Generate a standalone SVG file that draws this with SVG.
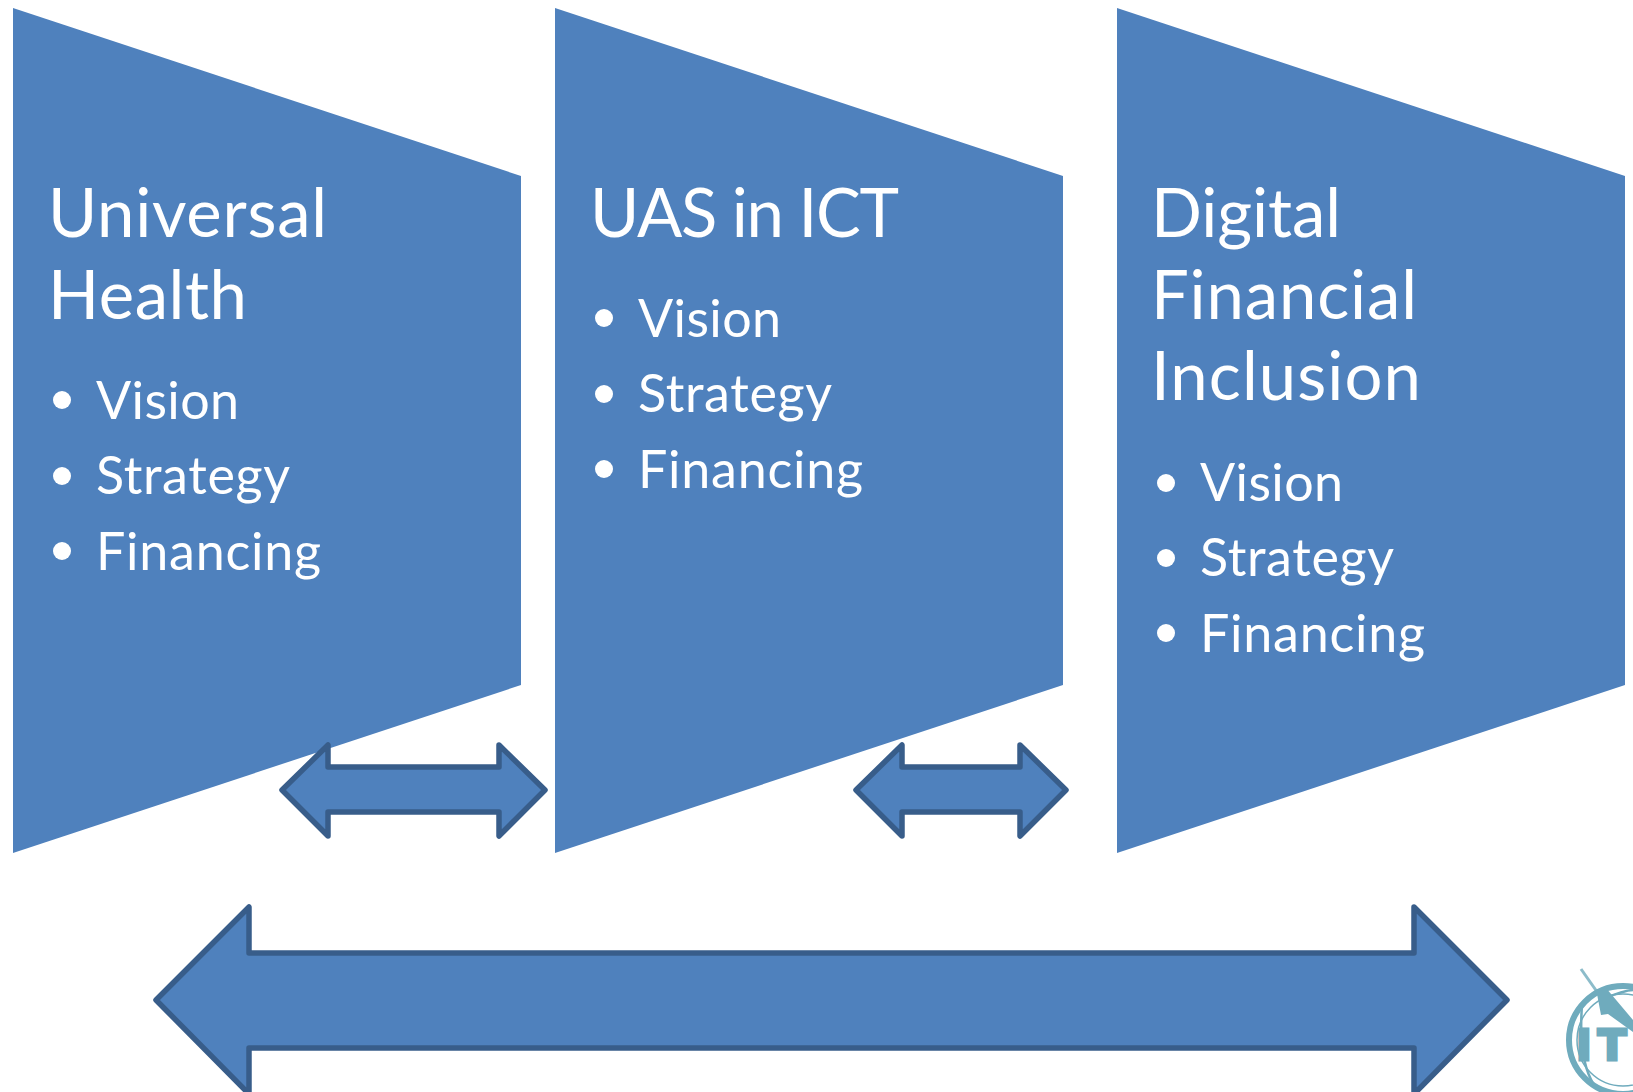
<svg xmlns="http://www.w3.org/2000/svg" width="1633" height="1092" viewBox="0 0 1633 1092">
<style>
.panel{fill:#4f81bd}
.arrow{fill:#4f81bd;stroke:#385d8a;stroke-width:5.5;stroke-linejoin:round}
text{font-family:"Lato","Carlito","Liberation Sans",sans-serif;fill:#fff}
.t{font-size:67px}
.b{font-size:52px}
.d{fill:#fff}
.logo{fill:none;stroke:#6fabbd}
</style>
<rect width="1633" height="1092" fill="#fff"/>
<g id="node-universal-health">
<polygon class="panel" points="13,8 521,176 521,685 13,853"/>
<text class="t" x="48" y="237" textLength="279">Universal</text>
<text class="t" x="48" y="319" textLength="199">Health</text>
<circle class="d" cx="62" cy="400" r="9"/><text class="b" x="96" y="419" textLength="143">Vision</text>
<circle class="d" cx="62" cy="476" r="9"/><text class="b" x="96" y="494" textLength="194">Strategy</text>
<circle class="d" cx="62" cy="551" r="9"/><text class="b" x="96" y="570" textLength="225">Financing</text>
</g>
<g id="node-uas-in-ict">
<polygon class="panel" points="555,8 1063,176 1063,685 555,853"/>
<text class="t" x="590" y="237" textLength="309">UAS in ICT</text>
<circle class="d" cx="604" cy="318" r="9"/><text class="b" x="638" y="337" textLength="143">Vision</text>
<circle class="d" cx="604" cy="394" r="9"/><text class="b" x="638" y="412" textLength="194">Strategy</text>
<circle class="d" cx="604" cy="469" r="9"/><text class="b" x="638" y="488" textLength="225">Financing</text>
</g>
<g id="node-digital-financial-inclusion">
<polygon class="panel" points="1117,8 1625,176 1625,685 1117,853"/>
<text class="t" x="1151" y="237" textLength="190">Digital</text>
<text class="t" x="1151" y="319" textLength="266">Financial</text>
<text class="t" x="1151" y="400" textLength="270">Inclusion</text>
<circle class="d" cx="1166" cy="483" r="9"/><text class="b" x="1200" y="501" textLength="143">Vision</text>
<circle class="d" cx="1166" cy="558" r="9"/><text class="b" x="1200" y="576" textLength="194">Strategy</text>
<circle class="d" cx="1166" cy="633" r="9"/><text class="b" x="1200" y="652" textLength="225">Financing</text>
</g>
<g id="connectors">
<polygon class="arrow" points="282,790 328,745 328,767 499,767 499,745 545,790 499,836 499,812 328,812 328,836"/>
<polygon class="arrow" points="856,790 902,745 902,767 1020,767 1020,745 1066,790 1020,836 1020,812 902,812 902,836"/>
<polygon class="arrow" points="156,1000 249,907 249,953 1414,953 1414,907 1507,1000 1414,1094 1414,1048 249,1048 249,1094"/>
</g>
<g id="logo">
<circle class="logo" cx="1623" cy="1040" r="54" stroke-width="6"/>
<circle class="logo" cx="1623" cy="1040" r="46" stroke-width="1.5"/>
<path class="logo" stroke-width="3" d="M1581 969L1600 996" opacity=".8"/>
<path class="logo" stroke-width="2.5" d="M1582 1005Q1578 1060 1594 1085M1600 1000Q1625 990 1633 990"/>
<polygon fill="#6fabbd" points="1597,994 1606,988 1633,1020 1633,1032 1608,1014 1601,1015"/>
<text x="1576" y="1060" style="font-family:'DejaVu Sans',sans-serif;font-weight:bold;font-size:42px;fill:#6fabbd;stroke:#6fabbd;stroke-width:3;letter-spacing:6px">IT</text>
</g>
</svg>
